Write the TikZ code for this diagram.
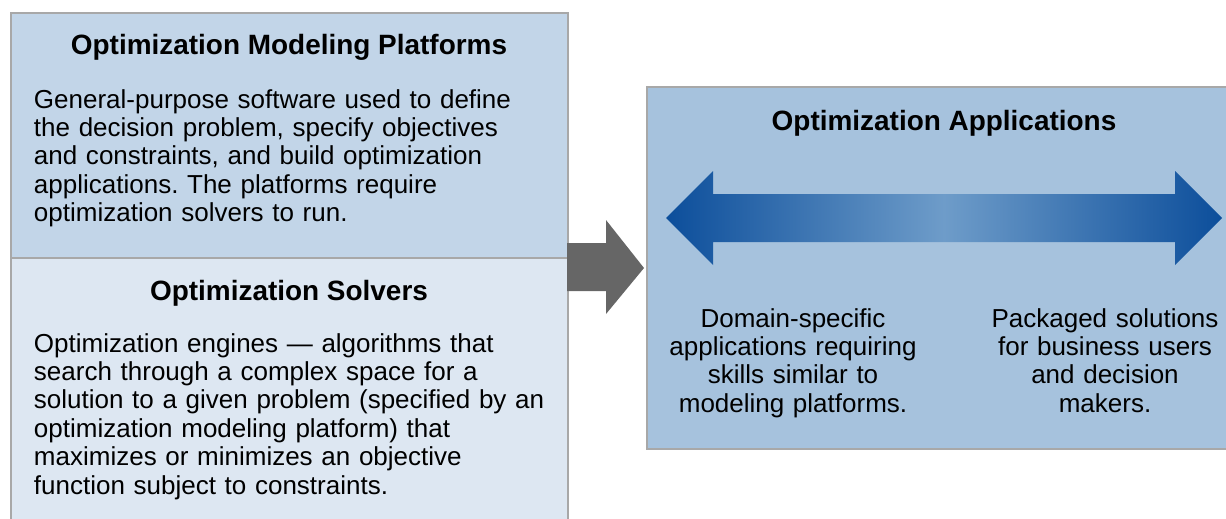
\documentclass[tikz,border=0pt]{standalone}
\usepackage{fontspec}
\setmainfont{Liberation Sans}
\usetikzlibrary{calc}
\frenchspacing
\providecommand*{\pgfmathsetnewmacro}[2]{%
    \newcommand*{#1}{}% Error if already defined
    \pgfmathsetmacro{#1}{#2}%
}
\definecolor{panelborder}{HTML}{A8A8A8}
\definecolor{platformfill}{HTML}{C2D5E8}
\definecolor{solverfill}{HTML}{DDE7F2}
\definecolor{appfill}{HTML}{A6C2DD}
\definecolor{flowgray}{HTML}{666666}
\definecolor{spandark}{HTML}{0C4E9B}
\definecolor{spanlight}{HTML}{6E9CC9}

\begin{document}
\begin{tikzpicture}[x = 0.02cm, y = -0.02cm, line width = 1.1pt,
    panel/.style = {draw = panelborder, rectangle, anchor = north west, inner sep = 0pt},
    heading/.style = {font = \fontsize{15.9}{18}\selectfont\bfseries, inner sep = 0pt, anchor = base},
    copy/.style = {font = \fontsize{14.8}{16.2}\selectfont, inner sep = 0pt}]

\useasboundingbox[clip] (0,0) rectangle (1226,518);

\pgfmathsetnewmacro{\spanmid}{218}
\pgfmathsetnewmacro{\shaft}{24}
\pgfmathsetnewmacro{\head}{47}

% left column
\node[panel, fill = platformfill, minimum width = 11.14cm, minimum height = 4.9cm] (platforms) at (10,12) {};
\node[panel, fill = solverfill, minimum width = 11.14cm, minimum height = 5.8cm] (solvers) at (10,257) {};

\node[heading] (platformstitle) at (289,54) {Optimization Modeling Platforms};
\node[copy, anchor = base west, text width = 10.6cm, align = left] (platformstext) at (33,108)
    {General-purpose software used to define\\
     the decision problem, specify objectives\\
     and constraints, and build optimization\\
     applications. The platforms require\\
     optimization solvers to run.};

\node[heading] (solverstitle) at (289,300) {Optimization Solvers};
\node[copy, anchor = base west, text width = 10.6cm, align = left] (solverstext) at (33,352)
    {Optimization engines — algorithms that\\
     search through a complex space for a\\
     solution to a given problem (specified by an\\
     optimization modeling platform) that\\
     maximizes or minimizes an objective\\
     function subject to constraints.};

% right panel
\node[panel, fill = appfill, minimum width = 11.92cm, minimum height = 7.24cm] (apps) at (646,86) {};
\node[heading] (appstitle) at (944,130) {Optimization Applications};

% block arrow between the panels
\fill[flowgray] (567,243) -- (606,243) -- (606,220) -- (644,268)
    -- (606,314) -- (606,291) -- (567,291) -- cycle;

% spectrum arrow
\shade[left color = spandark, right color = spandark, middle color = spanlight]
    (666,\spanmid) -- (666+\head,\spanmid-\head) -- (666+\head,\spanmid-\shaft)
    -- (1222-\head,\spanmid-\shaft) -- (1222-\head,\spanmid-\head) -- (1222,\spanmid)
    -- (1222-\head,\spanmid+\head) -- (1222-\head,\spanmid+\shaft)
    -- (666+\head,\spanmid+\shaft) -- (666+\head,\spanmid+\head) -- cycle;

\foreach \X/\NAME/\TEXT in {
        793/domain/{Domain-specific\\ applications requiring\\ skills similar to\\ modeling platforms.},
        1105/packaged/{Packaged solutions\\ for business users\\ and decision\\ makers.}}{
    \node[copy, anchor = base, text width = 5.4cm, align = center] (\NAME) at (\X,327) {\TEXT};
    };

\end{tikzpicture}
\end{document}
